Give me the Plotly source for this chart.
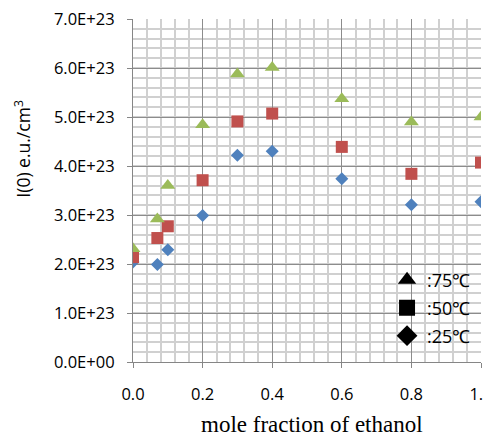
import plotly.graph_objects as go

# ---- data ----
x_frac = [0.0, 0.07, 0.1, 0.2, 0.3, 0.4, 0.6, 0.8, 1.0]
i0_75C = [2.31e23, 2.92e23, 3.60e23, 4.84e23, 5.88e23, 6.01e23, 5.37e23, 4.90e23, 5.00e23]
i0_50C = [2.14e23, 2.53e23, 2.77e23, 3.71e23, 4.91e23, 5.07e23, 4.39e23, 3.84e23, 4.07e23]
i0_25C = [2.04e23, 1.99e23, 2.29e23, 2.99e23, 4.22e23, 4.30e23, 3.74e23, 3.21e23, 3.27e23]

y_tickvals = [0, 1e23, 2e23, 3e23, 4e23, 5e23, 6e23, 7e23]
y_ticktext = ["0.0E+00", "1.0E+23", "2.0E+23", "3.0E+23", "4.0E+23", "5.0E+23", "6.0E+23", "7.0E+23"]

series = [
    (":75℃", i0_75C, "triangle-up", "#9BBB59", 13),
    (":50℃", i0_50C, "square", "#C0504D", 12),
    (":25℃", i0_25C, "diamond", "#4F81BD", 10),
]

fig = go.Figure()

# data traces (25 drawn first so upper series sit on top)
for name, ys, sym, col, sz in reversed(series):
    fig.add_trace(go.Scatter(x=x_frac, y=ys, mode="markers", showlegend=False,
                             marker=dict(symbol=sym, color=col, size=sz, line=dict(width=0))))

# legend keys (black symbols)
for i, (name, ys, sym, col, sz) in enumerate(series):
    fig.add_trace(go.Scatter(x=[None], y=[None], mode="markers", name=name,
                             legendgroup=f"g{i}",
                             marker=dict(symbol=sym, color="black", size=16)))

tick_font = dict(family="Open Sans", size=16.5, color="#000000")

fig.update_layout(
    width=483, height=428,
    margin=dict(l=125, r=10, t=11, b=74),
    paper_bgcolor="white", plot_bgcolor="white",
    showlegend=True,
    legend=dict(x=0.73, y=0.2925, xanchor="left", yanchor="top",
                bgcolor="rgba(0,0,0,0)", borderwidth=0,
                font=dict(family="Open Sans", size=18, color="#000000"),
                tracegroupgap=1.5, traceorder="grouped"),
    xaxis=dict(range=[0, 1], dtick=0.2, tick0=0, tickformat=".1f",
               automargin=False, ticklabeloverflow="allow",
               showgrid=True, gridcolor="#8c8c8c", gridwidth=1.2,
               showline=True, linecolor="#868686", linewidth=1.2,
               ticks="outside", ticklen=5, tickcolor="#868686",
               ticklabelstandoff=12,
               tickfont=tick_font, zeroline=False,
               minor=dict(dtick=0.04, showgrid=True, gridcolor="#d0d0d0", gridwidth=1.5, ticks="")),
    yaxis=dict(range=[0, 7e23], tickvals=y_tickvals, ticktext=y_ticktext,
               automargin=False, ticklabeloverflow="allow",
               showgrid=True, gridcolor="#8c8c8c", gridwidth=1.2,
               showline=True, linecolor="#868686", linewidth=1.2,
               ticks="outside", ticklen=5, tickcolor="#868686",
               ticklabelstandoff=9,
               tickfont=tick_font, zeroline=False,
               minor=dict(dtick=0.2e23, tick0=0, showgrid=True, gridcolor="#d0d0d0", gridwidth=1.5, ticks="")),
    annotations=[
        dict(text="I(0) e.u./cm<sup>3</sup>", xref="paper", yref="paper",
             x=-0.318, y=0.623, xanchor="center", yanchor="middle", textangle=-90,
             showarrow=False, font=dict(family="Open Sans", size=17.5, color="#000000")),
        dict(text="mole fraction of ethanol", xref="paper", yref="paper",
             x=0.514, y=-0.182, xanchor="center", yanchor="middle",
             showarrow=False, font=dict(family="Liberation Serif", size=23, color="#000000")),
    ],
)

fig.write_html("out.html")
